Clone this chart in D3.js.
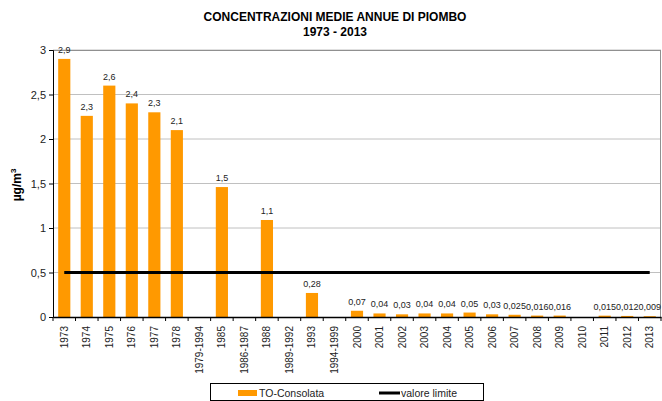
<!DOCTYPE html>
<html lang="it">
<head>
<meta charset="UTF-8">
<title>Concentrazioni medie annue di piombo</title>
<script src="https://d3js.org/d3.v7.min.js"></script>
<style>
  body { margin: 0; background: #fff; }
  svg { font-family: "Liberation Sans", Arial, sans-serif; }
</style>
</head>
<body>
<div id="chart"></div>
<script>
// categorie (anni / periodi)
const categories = ["1973","1974","1975","1976","1977","1978","1979-1994","1985","1986-1987","1988",
  "1989-1992","1993","1994-1999","2000","2001","2002","2003","2004","2005","2006","2007","2008",
  "2009","2010","2011","2012","2013"];
// valori TO-Consolata (µg/m3), null = dato mancante
const values = [2.9, 2.26, 2.6, 2.4, 2.3, 2.1, null, 1.46, null, 1.09, null, 0.27, null,
  0.07, 0.04, 0.03, 0.04, 0.04, 0.05, 0.03, 0.025, 0.016, 0.016, null, 0.015, 0.012, 0.009];
// etichette dei valori come nel grafico originale
const valueLabels = ["2,9","2,3","2,6","2,4","2,3","2,1","","1,5","","1,1","","0,28","",
  "0,07","0,04","0,03","0,04","0,04","0,05","0,03","0,025","0,016","0,016","","0,015","0,012","0,009"];
const limitValue = 0.5;
const yTicks = [0, 0.5, 1, 1.5, 2, 2.5, 3];

const W = 662, H = 401;
const margin = { top: 50, right: 1, bottom: 84, left: 53 };

const svg = d3.select("#chart").append("svg")
  .attr("width", W).attr("height", H);

const x = d3.scaleBand()
  .domain(categories)
  .range([margin.left, W - margin.right])
  .paddingInner(0.46)
  .paddingOuter(0.23);

const y = d3.scaleLinear()
  .domain([0, 3])
  .range([H - margin.bottom, margin.top]);

// griglia
svg.append("g")
  .selectAll("line")
  .data(yTicks.filter(d => d > 0))
  .join("line")
  .attr("x1", margin.left).attr("x2", W - margin.right)
  .attr("y1", d => y(d)).attr("y2", d => y(d))
  .attr("stroke", "#c0c0c0").attr("stroke-width", 1);

// bordo destro e superiore
svg.append("line")
  .attr("x1", W - margin.right - 0.5).attr("x2", W - margin.right - 0.5)
  .attr("y1", y(3)).attr("y2", y(0))
  .attr("stroke", "#909090");
svg.append("line")
  .attr("x1", margin.left).attr("x2", W - margin.right)
  .attr("y1", y(3) + 0.5).attr("y2", y(3) + 0.5)
  .attr("stroke", "#909090");

// barre
const data = categories.map((c, i) => ({ cat: c, v: values[i], label: valueLabels[i] }));
svg.append("g")
  .selectAll("rect")
  .data(data.filter(d => d.v != null))
  .join("rect")
  .attr("x", d => x(d.cat))
  .attr("y", d => y(d.v))
  .attr("width", x.bandwidth())
  .attr("height", d => y(0) - y(d.v))
  .attr("fill", "#ff9900");

// etichette valori
svg.append("g")
  .selectAll("text")
  .data(data.filter(d => d.v != null))
  .join("text")
  .attr("x", d => x(d.cat) + x.bandwidth() / 2)
  .attr("y", d => y(d.v) - 6)
  .attr("text-anchor", "middle")
  .attr("font-size", 9)
  .attr("fill", "#222")
  .text(d => d.label);

// valore limite
const lineGen = d3.line()
  .x(d => x(d) + x.bandwidth() / 2)
  .y(() => y(limitValue));
svg.append("path")
  .datum(categories)
  .attr("fill", "none")
  .attr("stroke", "#000")
  .attr("stroke-width", 3)
  .attr("d", lineGen);

// asse y
const yAxis = svg.append("g")
  .attr("transform", `translate(${margin.left},0)`)
  .call(d3.axisLeft(y).tickValues(yTicks).tickSize(4).tickFormat(d => String(d).replace(".", ",")));
yAxis.select(".domain").attr("stroke", "#000");
yAxis.selectAll("text").attr("font-size", 11).attr("fill", "#222").attr("font-family", "Liberation Sans, Arial, sans-serif");

// asse x
const xAxis = svg.append("g")
  .attr("transform", `translate(0,${y(0)})`)
  .call(d3.axisBottom(x).tickSize(0).tickSizeOuter(0));
xAxis.select(".domain").attr("stroke", "#000").attr("stroke-width", 1.5);
xAxis.selectAll(".tick text")
  .attr("font-size", 10)
  .attr("fill", "#222")
  .attr("font-family", "Liberation Sans, Arial, sans-serif")
  .attr("transform", "rotate(-90)")
  .attr("text-anchor", "end")
  .attr("x", -9).attr("y", 0).attr("dy", "0.35em");
// tacche tra le categorie
const step = x.step();
svg.append("g")
  .selectAll("line")
  .data(d3.range(categories.length + 1))
  .join("line")
  .attr("x1", i => margin.left + i * step)
  .attr("x2", i => margin.left + i * step)
  .attr("y1", y(0)).attr("y2", y(0) + 4)
  .attr("stroke", "#000");

// titolo
svg.append("text")
  .attr("x", 335).attr("y", 21)
  .attr("text-anchor", "middle").attr("font-weight", "bold").attr("font-size", 12)
  .text("CONCENTRAZIONI MEDIE ANNUE DI PIOMBO");
svg.append("text")
  .attr("x", 335).attr("y", 36)
  .attr("text-anchor", "middle").attr("font-weight", "bold").attr("font-size", 12)
  .text("1973 - 2013");

// etichetta asse y
const yl = svg.append("text")
  .attr("transform", "translate(21,185) rotate(-90)")
  .attr("text-anchor", "middle").attr("font-weight", "bold").attr("font-size", 12);
yl.append("tspan").text("µg/m");
yl.append("tspan").attr("font-size", 8).attr("dy", -5).text("3");

// legenda
const lg = svg.append("g");
lg.append("rect")
  .attr("x", 210.5).attr("y", 383.5).attr("width", 273).attr("height", 17)
  .attr("fill", "#fff").attr("stroke", "#000");
lg.append("rect")
  .attr("x", 238).attr("y", 390).attr("width", 19).attr("height", 6)
  .attr("fill", "#ff9900");
lg.append("text")
  .attr("x", 259).attr("y", 397).attr("font-size", 10.5).attr("fill", "#222")
  .text("TO-Consolata");
lg.append("line")
  .attr("x1", 379).attr("x2", 400).attr("y1", 393).attr("y2", 393)
  .attr("stroke", "#000").attr("stroke-width", 3);
lg.append("text")
  .attr("x", 401).attr("y", 397).attr("font-size", 10.5).attr("fill", "#222")
  .text("valore limite");
</script>
</body>
</html>
